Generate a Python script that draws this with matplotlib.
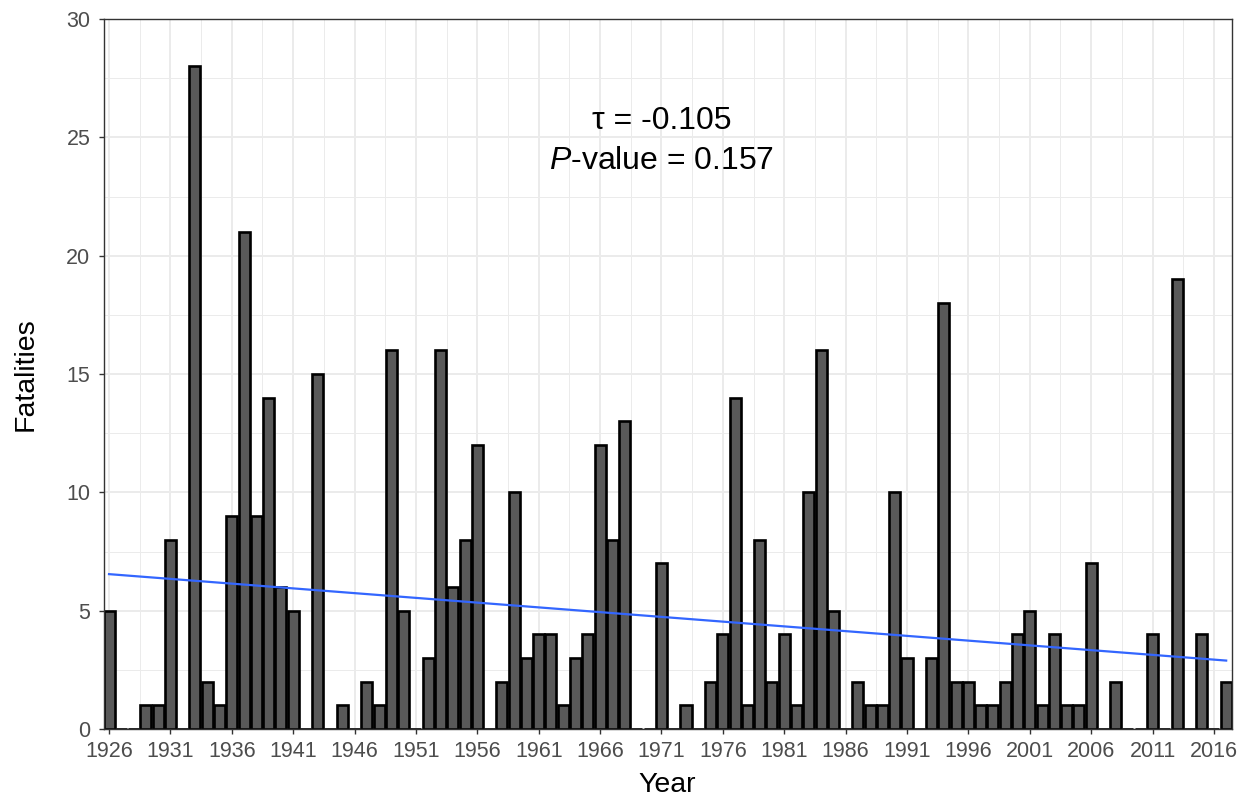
import numpy as np
import matplotlib
matplotlib.use("Agg")
import matplotlib.pyplot as plt
from matplotlib.ticker import MultipleLocator, FixedLocator

plt.rcParams['font.family'] = ['Liberation Sans', 'DejaVu Sans']
plt.rcParams['mathtext.fontset'] = 'custom'
plt.rcParams['mathtext.rm'] = 'Liberation Sans'
plt.rcParams['mathtext.it'] = 'Liberation Sans:italic'

# Annual fatalities
years = np.arange(1926, 2018)
fatalities = [
    5, 0, 0, 1, 1, 8, 0, 28, 2, 1,        # 1926-1935
    9, 21, 9, 14, 6, 5, 0, 15, 0, 1,      # 1936-1945
    0, 2, 1, 16, 5, 0, 3, 16, 6, 8,       # 1946-1955
    12, 0, 2, 10, 3, 4, 4, 1, 3, 4,       # 1956-1965
    12, 8, 13, 0, 0, 7, 0, 1, 0, 2,       # 1966-1975
    4, 14, 1, 8, 2, 4, 1, 10, 16, 5,      # 1976-1985
    0, 2, 1, 1, 10, 3, 0, 3, 18, 2,       # 1986-1995
    2, 1, 1, 2, 4, 5, 1, 4, 1, 1,         # 1996-2005
    7, 0, 2, 0, 0, 4, 0, 19, 0, 4,        # 2006-2015
    0, 2,                                 # 2016-2017
]
year_ticks = list(range(1926, 2017, 5))
tau_text = "τ = -0.105"
pval_text = "$P$-value = 0.157"

# linear trend (geom_smooth lm style)
slope, intercept = np.polyfit(years, fatalities, 1)
trend = slope * years + intercept

fig = plt.figure(figsize=(12.48, 7.99), dpi=100)
ax = fig.add_axes([103.5 / 1248, 1 - 729 / 799, (1231.7 - 103.5) / 1248, (729 - 19) / 799])

grid_col = '#EBEBEB'
ax.set_axisbelow(True)
ax.bar(years, fatalities, width=0.9, color='#595959', edgecolor='black',
       linewidth=1.9, zorder=2)
ax.plot(years, trend, color='#3366FF', linewidth=1.6, zorder=3)

ax.set_xlim(1925.55, 2017.45)
ax.set_ylim(0, 30)
ax.xaxis.set_major_locator(FixedLocator(year_ticks))
ax.xaxis.set_minor_locator(FixedLocator([y + 2.5 for y in range(1921, 2017, 5)]))
ax.yaxis.set_major_locator(MultipleLocator(5))
ax.yaxis.set_minor_locator(MultipleLocator(2.5))
ax.grid(which='major', color=grid_col, linewidth=1.4, zorder=0)
ax.grid(which='minor', color=grid_col, linewidth=0.7, zorder=0)

ax.tick_params(which='major', length=3.5, width=1.0, color='#333333',
               labelcolor='#4D4D4D', labelsize=15.5)
ax.tick_params(axis='x', pad=5)
ax.tick_params(axis='y', pad=6)
ax.tick_params(which='minor', length=0)
for s in ax.spines.values():
    s.set_color('#333333')
    s.set_linewidth(1.0)

ax.set_xlabel("Year", fontsize=20.5, color='black', va='center')
ax.set_ylabel("Fatalities", fontsize=20.5, color='black', va='center')
ax.xaxis.set_label_coords(0.5, -0.079)
ax.yaxis.set_label_coords(-0.069, 0.5)

ax.text(1971, 25.7, tau_text, ha='center', va='center', fontsize=23, zorder=4)
ax.text(1971, 24.0, pval_text, ha='center', va='center', fontsize=23, zorder=4)

fig.savefig("out.png", dpi=100)
